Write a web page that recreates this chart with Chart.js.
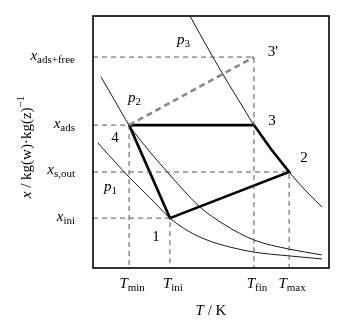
<!DOCTYPE html>
<html>
<head>
<meta charset="utf-8">
<style>
  html, body { margin: 0; padding: 0; background: #fff; }
  canvas { display: block; }
</style>
</head>
<body>
<canvas id="chart" width="350" height="331"></canvas>
<script src="https://cdn.jsdelivr.net/npm/chart.js@4.4.0/dist/chart.umd.min.js"></script>
<script>
  // temperature marks on the T axis (no scale, just relative positions)
  const tNames = ["min", "ini", "fin", "max"];
  const tValues = [15.3, 32.6, 68.2, 83.1];

  // loading marks on the x axis
  const xNames = ["ini", "s,out", "ads", "ads+free"];
  const xValues = [19.8, 38.1, 56.7, 83.7];

  // isobars p1 < p2 < p3 as [T, x]
  const p1 = [[2.1, 49.6], [8.9, 42.5], [15.7, 35.7], [24.2, 27.8], [32.6, 19.8], [40.3, 14.7],
              [48.3, 11.1], [58.1, 8.3], [68.2, 6.3], [83.1, 4.8], [97.0, 3.6]];
  const p2 = [[3.4, 75.8], [9.3, 66.3], [15.3, 56.7], [24.2, 46.0], [32.6, 36.9], [45.3, 24.2],
              [55.9, 17.1], [68.2, 11.1], [83.1, 7.5], [97.0, 5.2]];
  const p3 = [[41.1, 100], [47.9, 88.5], [54.7, 77.4], [61.4, 67.1], [68.2, 56.7], [75.4, 47.2],
              [83.1, 38.1], [89.8, 31.0], [97.0, 24.2]];

  const serif = '"Liberation Serif", "DejaVu Serif", serif';

  const pt = (T, x) => ({ x: T, y: x });
  const curve = arr => arr.map(d => pt(d[0], d[1]));

  // corners of the cycle
  const c4 = pt(tValues[0], xValues[2]);
  const c3 = pt(tValues[2], xValues[2]);
  const c2 = pt(tValues[3], xValues[1]);
  const c1 = pt(tValues[1], xValues[0]);
  const c3p = pt(tValues[2], xValues[3]);

  // 3 -> 2 follows the p3 isobar
  const along = p3.filter(d => d[0] > c3.x && d[0] < c2.x).map(d => pt(d[0], d[1]));
  const cycle = [c4, c3, ...along, c2, c1, c4];

  const guide = c => ({
    data: [pt(0, c.y), pt(c.x, c.y), pt(c.x, 0)],
    borderColor: "#555", borderWidth: 1, borderDash: [5, 4]
  });
  const thin = arr => ({
    data: curve(arr), borderColor: "#000", borderWidth: 0.9, cubicInterpolationMode: "monotone"
  });

  function drawSub(ctx, x, y, main, sub, align, big, small) {
    ctx.font = "italic " + big + "px " + serif;
    const w1 = ctx.measureText(main).width;
    ctx.font = small + "px " + serif;
    const w2 = ctx.measureText(sub).width;
    let left = x;
    if (align === "right") left = x - w1 - w2;
    if (align === "center") left = x - (w1 + w2) / 2;
    ctx.textAlign = "left";
    ctx.textBaseline = "alphabetic";
    ctx.font = "italic " + big + "px " + serif;
    ctx.fillText(main, left, y);
    ctx.font = small + "px " + serif;
    ctx.fillText(sub, left + w1, y + 3);
  }

  const labels = {
    id: "labels",
    afterDraw(chart) {
      const ctx = chart.ctx, a = chart.chartArea;
      const sx = chart.scales.x, sy = chart.scales.y;
      ctx.save();
      ctx.fillStyle = "#000";

      // frame
      ctx.strokeStyle = "#000";
      ctx.lineWidth = 1.6;
      ctx.strokeRect(a.left, a.top, a.right - a.left, a.bottom - a.top);

      // tick labels
      tNames.forEach((n, i) => {
        drawSub(ctx, sx.getPixelForValue(tValues[i]) + 3, a.bottom + 20, "T", n, "center", 15, 11);
      });
      xNames.forEach((n, i) => {
        drawSub(ctx, a.left - 18, sy.getPixelForValue(xValues[i]) + 2.5, "x", n, "right", 15, 11);
      });

      // axis titles
      ctx.font = "italic 15px " + serif;
      const wT = ctx.measureText("T").width;
      ctx.font = "15px " + serif;
      const wK = ctx.measureText(" / K").width;
      const tx = (a.left + a.right) / 2 - (wT + wK) / 2;
      ctx.textAlign = "left";
      ctx.font = "italic 15px " + serif;
      ctx.fillText("T", tx, a.bottom + 47);
      ctx.font = "15px " + serif;
      ctx.fillText(" / K", tx + wT, a.bottom + 47);

      ctx.save();
      ctx.translate(31, 147);
      ctx.rotate(-Math.PI / 2);
      ctx.font = "italic 15px " + serif;
      const w1 = ctx.measureText("x").width;
      ctx.font = "15px " + serif;
      const w2 = ctx.measureText(" / kg(w)\u00b7kg(z)").width;
      ctx.font = "11px " + serif;
      const w3 = ctx.measureText("\u22121").width;
      let l = -(w1 + w2 + w3) / 2;
      ctx.font = "italic 15px " + serif;
      ctx.fillText("x", l, 0);
      ctx.font = "15px " + serif;
      ctx.fillText(" / kg(w)\u00b7kg(z)", l + w1, 0);
      ctx.font = "11px " + serif;
      ctx.fillText("\u22121", l + w1 + w2, -7);
      ctx.restore();

      // state numbers
      ctx.font = "15px " + serif;
      ctx.textAlign = "center";
      ctx.textBaseline = "middle";
      const num = (c, t, dx, dy) =>
        ctx.fillText(t, sx.getPixelForValue(c.x) + dx, sy.getPixelForValue(c.y) + dy);
      num(c4, "4", -14, 13);
      num(c3, "3", 18, -4);
      num(c2, "2", 15, -14);
      num(c1, "1", -14, 19);
      num(c3p, "3'", 19, -5);

      // isobar names
      drawSub(ctx, a.left + 11, a.top + 175, "p", "1", "left", 15, 11);
      drawSub(ctx, a.left + 35, a.top + 86, "p", "2", "left", 15, 11);
      drawSub(ctx, a.left + 84, a.top + 28, "p", "3", "left", 15, 11);
      ctx.restore();
    }
  };

  new Chart(document.getElementById("chart"), {
    type: "scatter",
    data: {
      datasets: [
        guide(c4), guide(c1), guide(c2), guide(c3p),
        thin(p1), thin(p2), thin(p3),
        { data: [c4, c3p], borderColor: "#888", borderWidth: 2.6, borderDash: [6, 4] },
        { data: cycle, borderColor: "#000", borderWidth: 2.6 }
      ]
    },
    options: {
      responsive: false,
      animation: false,
      devicePixelRatio: 1,
      showLine: true,
      elements: { point: { radius: 0 }, line: { tension: 0 } },
      layout: { padding: { left: 93, top: 16, right: 21, bottom: 63 } },
      plugins: { legend: { display: false }, tooltip: { enabled: false } },
      scales: {
        x: { type: "linear", min: 0, max: 100, display: false },
        y: { type: "linear", min: 0, max: 100, display: false }
      }
    },
    plugins: [labels]
  });
</script>
</body>
</html>
